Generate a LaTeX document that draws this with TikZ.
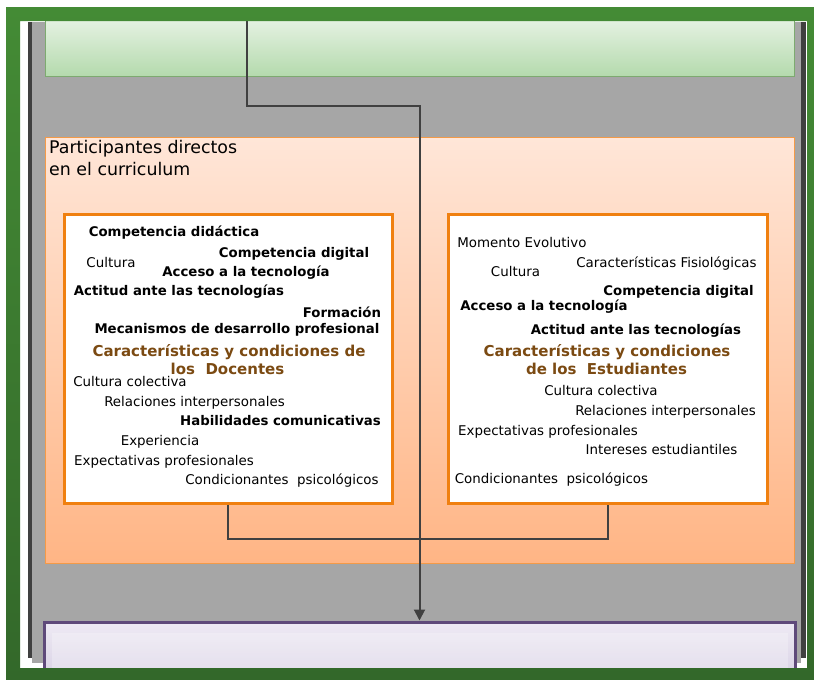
\documentclass[tikz,border=0pt]{standalone}
\usepackage{fontspec}
\setmainfont{DejaVu Sans}
\usetikzlibrary{arrows.meta}
\definecolor{frameTop}{HTML}{448B35}
\definecolor{frameBot}{HTML}{33682A}
\definecolor{panelGrey}{HTML}{A6A6A6}
\definecolor{sideDark}{HTML}{404040}
\definecolor{greenTop}{HTML}{EAF4E7}
\definecolor{greenBot}{HTML}{B4DAAD}
\definecolor{greenEdge}{HTML}{7DAA70}
\definecolor{peachTop}{HTML}{FFE6D8}
\definecolor{peachBot}{HTML}{FFB585}
\definecolor{peachEdge}{HTML}{F39A48}
\definecolor{boxEdge}{HTML}{F08010}
\definecolor{lilacTop}{HTML}{EEEAF4}
\definecolor{lilacBot}{HTML}{D0C7DE}
\definecolor{lilacEdge}{HTML}{5F4A7A}
\definecolor{brownT}{HTML}{7B4A12}
\definecolor{connGrey}{HTML}{404040}
\begin{document}
\begin{tikzpicture}[x=1pt,y=-1pt,
  txt/.style={inner sep=0pt, text height=0.75em, text depth=0.2em, yshift=-3pt,
    font=\fontsize{13.4}{16}\selectfont},
  bld/.style={txt, font=\fontsize{13.3}{16}\selectfont\bfseries},
  ttl/.style={txt, font=\fontsize{15}{18}\selectfont\bfseries, text=brownT},
  areabox/.style={rectangle, inner sep=0pt},
  listbox/.style={rectangle, inner sep=0pt, fill=white, draw=boxEdge, line width=3pt},
  conn/.style={draw=connGrey, line width=2pt}
]
\useasboundingbox (0,0) rectangle (814,680);
\fill[white] (0,0) rectangle (814,680);

\begin{scope}
  \clip (20,21) rectangle (807,668);
  % grey panel with dark side edges
  \fill[sideDark] (28,22) rectangle (806,658);
  \fill[panelGrey] (32,22) rectangle (801,663);

  % top box
  \node[areabox, minimum width=749pt, minimum height=62pt,
        top color=greenTop, bottom color=greenBot, draw=greenEdge, line width=1pt]
        (meta) at (419.5,45) {};

  % participants area
  \node[areabox, minimum width=749pt, minimum height=426pt,
        top color=peachTop, bottom color=peachBot, draw=peachEdge, line width=1pt]
        (area) at (419.5,350) {};
  \node[anchor=west, align=left, inner sep=0pt,
        font=\fontsize{17.4}{22}\selectfont] (areatitle) at (49,158)
        {Participantes directos\\en el curriculum};

  % teachers and students
  \node[listbox, minimum width=328pt, minimum height=289pt] (docentes) at (228,358.5) {};
  \node[listbox, minimum width=319pt, minimum height=289pt] (estudiantes) at (607.5,358.5) {};

  % result box with inner highlight
  \node[areabox, minimum width=751pt, minimum height=80pt,
        top color=lilacTop, bottom color=lilacBot, draw=lilacEdge, line width=3pt]
        (result) at (419.5,662) {};
  \fill[white, opacity=0.25] ([xshift=9pt,yshift=-12pt]result.north west)
        rectangle ([xshift=-9pt]result.south east);

  % connectors
  \coordinate (src) at (247,21);
  \coordinate (turn) at (247,106);
  \draw[conn] (docentes.south) -- ++(0,34) -| (estudiantes.south);
  \draw[conn, -{Triangle[length=11pt,width=11pt]}] (src) -- (turn) -| (result.north);

  % teachers' characteristics
  \node[bld] (d1) at (174,231) {Competencia didáctica};
  \node[bld] (d2) at (294,252) {Competencia digital};
  \node[txt] (d3) at (111,262) {Cultura};
  \node[bld] (d4) at (246,271) {Acceso a la tecnología};
  \node[bld] (d5) at (179,290) {Actitud ante las tecnologías};
  \node[bld] (d6) at (342,312) {Formación};
  \node[bld] (d7) at (237,328) {Mecanismos de desarrollo profesional};
  \node[ttl] (d8) at (229,351) {Características y condiciones de};
  \node[ttl] (d9) at (227.5,369) {los\ \ Docentes};
  \node[txt] (d10) at (130,381) {Cultura colectiva};
  \node[txt] (d11) at (194.5,401) {Relaciones interpersonales};
  \node[bld] (d12) at (280.5,420) {Habilidades comunicativas};
  \node[txt] (d13) at (160,440) {Experiencia};
  \node[txt] (d14) at (164,460) {Expectativas profesionales};
  \node[txt] (d15) at (282,479) {Condicionantes\ \ psicológicos};

  % students' characteristics
  \node[txt] (e1) at (522,242) {Momento Evolutivo};
  \node[txt] (e2) at (666.5,262) {Características Fisiológicas};
  \node[txt] (e3) at (515.5,271) {Cultura};
  \node[bld] (e4) at (678.5,290) {Competencia digital};
  \node[bld] (e5) at (544,305) {Acceso a la tecnología};
  \node[bld] (e6) at (636,329) {Actitud ante las tecnologías};
  \node[ttl] (e7) at (607,351) {Características y condiciones};
  \node[ttl] (e8) at (606.5,369) {de los\ \ Estudiantes};
  \node[txt] (e9) at (601,390) {Cultura colectiva};
  \node[txt] (e10) at (665.5,410) {Relaciones interpersonales};
  \node[txt] (e11) at (548,430) {Expectativas profesionales};
  \node[txt] (e12) at (661.5,449) {Intereses estudiantiles};
  \node[txt] (e13) at (551.5,478) {Condicionantes\ \ psicológicos};
\end{scope}

% outer green frame
\shade[top color=frameTop, bottom color=frameBot, even odd rule]
  (6,7) rectangle (814,680) (20,21) rectangle (807,668);
\end{tikzpicture}
\end{document}
